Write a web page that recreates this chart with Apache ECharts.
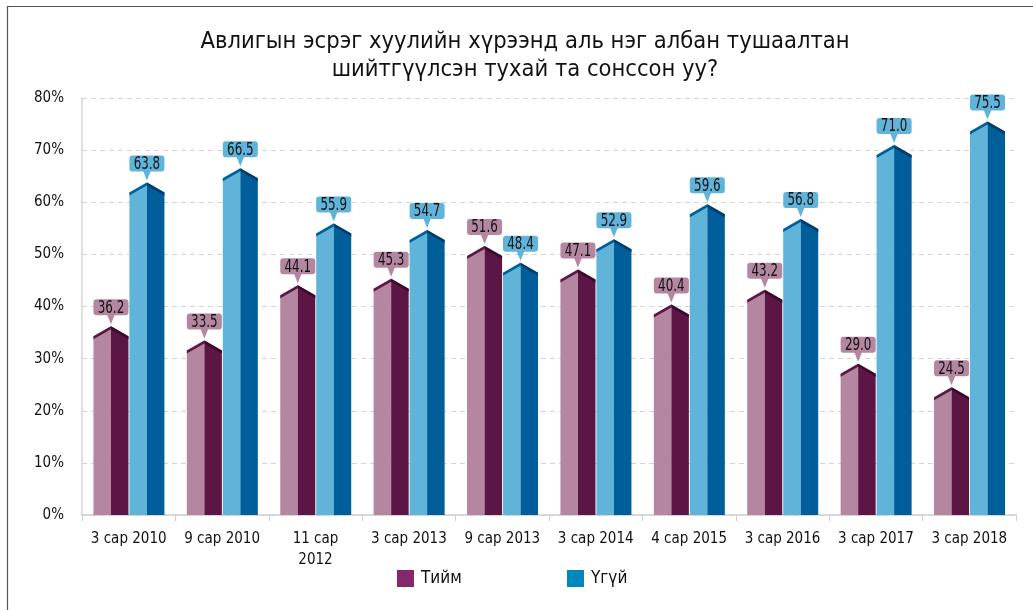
<!DOCTYPE html>
<html>
<head>
<meta charset="utf-8">
<script src="https://cdn.jsdelivr.net/npm/echarts@6/dist/echarts.min.js"></script>
<style>
  html, body { margin: 0; padding: 0; background: #fff; }
  #chart { width: 1033px; height: 610px; }
</style>
</head>
<body>
<div id="chart"></div>
<script>
var FONT = '"DejaVu Sans Condensed", "Liberation Sans Narrow", sans-serif';

// data
var categories = ['3 сар 2010', '9 сар 2010', '11 сар\n2012', '3 сар 2013', '9 сар 2013',
  '3 сар 2014', '4 сар 2015', '3 сар 2016', '3 сар 2017', '3 сар 2018'];
var tiim = [36.2, 33.5, 44.1, 45.3, 51.6, 47.1, 40.4, 43.2, 29.0, 24.5];
var ugui = [63.8, 66.5, 55.9, 54.7, 48.4, 52.9, 59.6, 56.8, 71.0, 75.5];

var chart = echarts.init(document.getElementById('chart'));

// prism-like bar with a pointed roof and a label box above it
function prismBar(offset, c) {
  return function (params, api) {
    var idx = api.value(0), val = api.value(1);
    var top = api.coord([idx, val]);
    var base = api.coord([idx, 0]);
    var band = api.size([1, 0])[0];
    var w = band * 0.375;
    var cx = top[0] + offset * band;
    var ty = top[1], by = base[1];
    var l = cx - w / 2, r = cx + w / 2;
    var drop = 10, t = 3;
    var boxH = 16, boxB = ty - 11;
    return {
      type: 'group',
      children: [
        { type: 'polygon', shape: { points: [[l, by], [l, ty + drop], [cx, ty], [cx, by]] },
          style: { fill: c.light } },
        { type: 'polygon', shape: { points: [[cx, ty], [r, ty + drop], [r, by], [cx, by]] },
          style: { fill: c.dark } },
        { type: 'polygon', shape: { points: [[l, ty + drop], [cx, ty], [cx, ty + t], [l, ty + drop + t]] },
          style: { fill: c.roofL } },
        { type: 'polygon', shape: { points: [[cx, ty], [r, ty + drop], [r, ty + drop + t], [cx, ty + t]] },
          style: { fill: c.roofR } },
        { type: 'polygon', shape: { points: [[cx - 4, boxB - 1], [cx + 4, boxB - 1], [cx, ty - 2]] },
          style: { fill: c.box } },
        { type: 'rect', shape: { x: l, y: boxB - boxH, width: w, height: boxH, r: 3 },
          style: { fill: c.box } },
        { type: 'text', x: cx, y: boxB - boxH / 2 + 1, scaleX: 0.78,
          style: { text: val.toFixed(1), fill: '#111', font: '17px ' + FONT,
            align: 'center', verticalAlign: 'middle' } }
      ]
    };
  };
}

var pink = { light: '#b5869f', dark: '#5c1646', roofL: '#5c1646', roofR: '#3a0a2c', box: '#b5869f' };
var blue = { light: '#61b4d9', dark: '#005e9a', roofL: '#005e9a', roofR: '#003c6c', box: '#61b4d9' };

chart.setOption({
  animation: false,
  textStyle: { fontFamily: FONT },
  graphic: [
    { type: 'rect', shape: { x: 7.5, y: 6.5, width: 1100, height: 700 },
      style: { fill: 'none', stroke: '#555', lineWidth: 1.2 }, silent: true }
  ],
  title: {
    text: 'Авлигын эсрэг хуулийн хүрээнд аль нэг албан тушаалтан\nшийтгүүлсэн тухай та сонссон уу?',
    left: 520, top: 23, textAlign: 'center',
    textStyle: { fontFamily: FONT, fontSize: 23.5, fontWeight: 'normal', color: '#111', lineHeight: 28 }
  },
  legend: [
    { data: ['Тийм'], left: 397, top: 570, padding: 0, icon: 'rect', itemWidth: 17, itemHeight: 17,
      textStyle: { fontFamily: FONT, fontSize: 17, color: '#111', padding: [0, 0, 0, 2] } },
    { data: ['Үгүй'], left: 567, top: 570, padding: 0, icon: 'rect', itemWidth: 17, itemHeight: 17,
      textStyle: { fontFamily: FONT, fontSize: 17, color: '#111', padding: [0, 0, 0, 2] } }
  ],
  grid: { left: 82, right: 17, top: 98, bottom: 95 },
  xAxis: {
    type: 'category', data: categories,
    axisLine: { lineStyle: { color: '#cfcfcf', width: 1.5 } },
    axisTick: { show: true, length: 6, lineStyle: { color: '#cfcfcf' } },
    axisLabel: { color: '#111', fontSize: 15, margin: 14, lineHeight: 21, interval: 0 }
  },
  yAxis: {
    type: 'value', min: 0, max: 80, interval: 10,
    axisLine: { show: true, lineStyle: { color: '#d6d6d6', width: 1.5 } },
    axisTick: { show: false },
    splitLine: { lineStyle: { color: '#d4d4d4', type: [5, 4], width: 1.2 } },
    axisLabel: { color: '#111', fontSize: 15, margin: 18, formatter: '{value}%' }
  },
  series: [
    { name: 'Тийм', type: 'custom', renderItem: prismBar(-0.19, pink),
      itemStyle: { color: '#842869' }, encode: { x: 0, y: 1 },
      data: tiim.map(function (v, i) { return [i, v]; }) },
    { name: 'Үгүй', type: 'custom', renderItem: prismBar(0.195, blue),
      itemStyle: { color: '#0088bc' }, encode: { x: 0, y: 1 },
      data: ugui.map(function (v, i) { return [i, v]; }) }
  ]
});
</script>
</body>
</html>
